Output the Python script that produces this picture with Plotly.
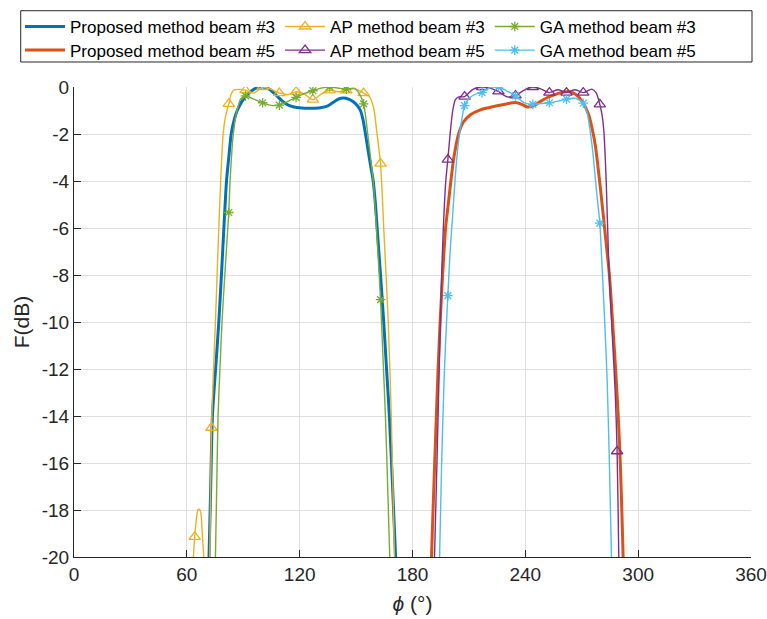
import plotly.graph_objects as go

# ---------------- data ----------------
# Proposed method beam #3
p3_phi = [71.5, 71.8, 72.7, 73.6, 75.3, 77.0, 78.4, 79.7, 81.1, 82.3, 83.6, 85.0, 86.8, 89.4, 92.5, 96.0,
          100.4, 104.0, 107.5, 110.5, 113.4, 117.0, 121.0, 126.0, 131.0, 135.0, 138.5, 141.0, 143.5, 146.0,
          148.5, 150.5, 152.3, 153.7, 155.0, 157.0, 159.1, 160.3, 161.2, 163.0, 164.7, 166.2, 167.7, 169.4,
          171.0, 171.3]
p3_f = [-21, -20, -17, -14, -12, -10, -8, -6, -4, -3, -2, -1.45, -1.0, -0.6, -0.3, -0.08,
        0.0, -0.1, -0.35, -0.58, -0.75, -0.85, -0.89, -0.9, -0.88, -0.8, -0.62, -0.5, -0.47, -0.52,
        -0.63, -0.78, -1.0, -1.4, -2.0, -3.0, -4.0, -5.0, -6.0, -8.0, -10.0, -12.0, -14.0, -17.0,
        -20.0, -20.6]

# Proposed method beam #5
p5_phi = [189.8, 190.1, 191.8, 193.6, 194.7, 196.0, 197.6, 199.0, 200.4, 202.0, 204.5, 207.0, 210.8,
          216.1, 220.5, 225.0, 230.0, 234.8, 238.5, 241.0, 244.5, 248.1, 252.5, 256.9, 262.3, 266.5,
          270.2, 273.7, 275.6, 277.3, 280.0, 282.6, 284.7, 286.4, 288.0, 289.4, 290.5, 291.3, 292.0,
          292.3]
p5_f = [-21, -20, -16, -12, -10, -8, -6, -5.0, -4.0, -3.0, -2.0, -1.5, -1.18,
        -0.97, -0.88, -0.8, -0.72, -0.66, -0.75, -0.85, -0.8, -0.61, -0.42, -0.29, -0.19, -0.3,
        -0.61, -1.18, -1.8, -2.53, -4.37, -6.36, -8.0, -10.0, -12.0, -14.0, -16.0, -18.0, -20.0,
        -21]

# AP method beam #3
ap3_phi = [63.2, 63.5, 64.2, 65.2, 65.9, 66.6, 67.4, 68.2, 69.0, 69.4, 70.6, 71.8, 72.2, 73.1, 74.2,
           75.2, 76.1, 77.0, 78.0, 79.3, 80.7, 82.3, 83.6, 85.0, 88.0, 91.2, 95.7, 100.3, 104.8, 109.2,
           113.7, 118.1, 122.5, 127.0, 131.5, 135.9, 140.3, 144.8, 149.5, 154.0, 157.0, 158.7, 159.6,
           161.3, 163.0, 164.7, 167.1, 168.7, 170.4, 170.7]
ap3_f = [-21, -20, -19.14, -18.3, -18.0, -17.97, -18.1, -19.0, -20, -21, -24, -21, -20, -14.5, -12,
         -10, -8, -6, -4, -2, -1.2, -0.72, -0.3, -0.13, -0.1, -0.14, -0.26, 0.0, -0.1, -0.26,
         -0.32, -0.2, -0.3, -0.54, -0.3, -0.14, -0.2, -0.14, -0.08, -0.26, -0.4, -0.7, -1.0,
         -2.1, -3.26, -6.0, -10.0, -14.0, -20, -21]
ap3_mk_phi = [64.2, 73.1, 82.3, 91.2, 100.3, 109.2, 118.1, 127.0, 135.9, 144.8, 154.0, 163.0]
ap3_mk_f = [-19.14, -14.5, -0.72, -0.14, 0.0, -0.26, -0.2, -0.54, -0.14, -0.14, -0.26, -3.26]

# AP method beam #5
ap5_phi = [191.4, 191.7, 193.0, 194.2, 195.5, 196.4, 197.7, 198.8, 200.0, 201.4, 202.8, 204.6, 207.7,
           211.7, 214.5, 217.0, 220.5, 223.0, 225.7, 230.3, 234.8, 239.2, 244.0, 248.2, 252.8, 257.3,
           261.9, 266.3, 270.8, 275.3, 277.7, 279.6, 280.8, 281.7, 283.0, 284.4, 286.2, 287.8, 288.8,
           289.7, 289.9]
ap5_f = [-21, -20, -16, -12, -8, -6, -4, -3.09, -2.0, -1.0, -0.54, -0.42, -0.41,
         -0.12, -0.02, 0.0, -0.02, -0.1, -0.19, -0.42, -0.36, -0.14, 0.0, -0.08, -0.24, -0.12,
         -0.24, -0.12, -0.24, -0.09, -0.25, -0.74, -1.2, -1.82, -4.0, -7.6, -10.5, -13.0, -15.5,
         -20, -21]
ap5_mk_phi = [198.8, 207.7, 217.0, 225.7, 234.8, 244.0, 252.8, 261.9, 270.8, 279.6, 288.8]
ap5_mk_f = [-3.09, -0.41, 0.0, -0.19, -0.36, 0.0, -0.24, -0.24, -0.24, -0.74, -15.5]

# GA method beam #3
ga3_phi = [74.9, 75.2, 75.9, 76.6, 77.6, 78.7, 80.2, 81.8, 82.3, 83.0, 84.7, 86.7, 88.7, 91.2, 95.6,
           100.3, 104.7, 109.2, 113.6, 118.1, 122.5, 127.0, 131.4, 135.9, 140.3, 144.8, 148.8, 151.5,
           154.0, 156.2, 157.7, 159.1, 161.2, 163.0, 164.3, 165.6, 166.8, 167.9, 168.2]
ga3_f = [-21, -20, -17, -14, -12, -10, -8, -6, -5.34, -4, -2, -1, -0.5, -0.38, -0.52,
         -0.67, -0.78, -0.77, -0.62, -0.44, -0.28, -0.16, -0.05, 0.0, -0.04, -0.09, -0.05, -0.26,
         -0.72, -2.0, -3.0, -4.0, -6.5, -9.05, -11.5, -14.0, -17.0, -20.0, -20.6]
ga3_mk_phi = [82.3, 91.2, 100.3, 109.2, 118.1, 127.0, 135.9, 144.8, 154.0, 163.0]
ga3_mk_f = [-5.34, -0.38, -0.67, -0.77, -0.44, -0.16, 0.0, -0.09, -0.72, -9.05]

# GA method beam #5
ga5_phi = [194.1, 194.4, 195.5, 196.2, 197.0, 198.1, 198.8, 200.0, 201.3, 202.6, 203.6, 205.0, 206.4,
           207.7, 210.5, 213.6, 217.0, 220.5, 222.8, 225.7, 229.8, 234.8, 239.5, 244.0, 248.4, 252.8,
           257.3, 261.9, 265.8, 268.6, 270.8, 272.9, 275.5, 277.8, 279.6, 280.9, 282.2, 283.5, 284.7,
           285.8, 286.1]
ga5_f = [-21, -20, -16, -14, -12, -10, -8.88, -7.0, -5.5, -4.0, -3.0, -2.0, -1.3,
         -0.79, -0.45, -0.3, -0.24, -0.05, 0.0, 0.0, -0.15, -0.38, -0.68, -0.74, -0.7, -0.67,
         -0.6, -0.52, -0.47, -0.55, -0.69, -1.1, -2.5, -4.37, -5.79, -7.8, -10.0, -12.45, -16,
         -20, -21]
ga5_mk_phi = [198.8, 207.7, 217.0, 225.7, 234.8, 244.0, 252.8, 261.9, 270.8, 279.6]
ga5_mk_f = [-8.88, -0.79, -0.24, 0.0, -0.38, -0.74, -0.67, -0.52, -0.69, -5.79]

x_ticks = [0, 60, 120, 180, 240, 300, 360]
x_ticktext = ["0", "60", "120", "180", "240", "300", "360"]
y_ticks = [0, -2, -4, -6, -8, -10, -12, -14, -16, -18, -20]
y_ticktext = ["0", "-2", "-4", "-6", "-8", "-10", "-12", "-14", "-16", "-18", "-20"]

names = ["Proposed method beam #3", "AP method beam #3", "GA method beam #3",
         "Proposed method beam #5", "AP method beam #5", "GA method beam #5"]

C_P3, C_P5 = "#0072BD", "#D95319"
C_AP3, C_AP5 = "#EDB120", "#7E2F8E"
C_GA3, C_GA5 = "#77AC30", "#4DBEEE"

fig = go.Figure()


def curve(phi, f, color, width):
    fig.add_trace(go.Scatter(x=phi, y=f, mode="lines",
                             line=dict(color=color, width=width, shape="spline", smoothing=0.7),
                             showlegend=False, hoverinfo="skip"))


def marks(phi, f, color, symbol, size):
    fig.add_trace(go.Scatter(x=phi, y=f, mode="markers",
                             marker=dict(symbol=symbol, size=size, color=color,
                                         line=dict(color=color, width=1.3)),
                             showlegend=False, hoverinfo="skip"))


TRI, TRI_S = "triangle-up-open", 10
AST, AST_S = "asterisk-open", 8

curve(p3_phi, p3_f, C_P3, 3)
curve(p5_phi, p5_f, C_P5, 3)
curve(ap3_phi, ap3_f, C_AP3, 1.4)
marks(ap3_mk_phi, ap3_mk_f, C_AP3, TRI, TRI_S)
curve(ap5_phi, ap5_f, C_AP5, 1.4)
marks(ap5_mk_phi, ap5_mk_f, C_AP5, TRI, TRI_S)
curve(ga3_phi, ga3_f, C_GA3, 1.4)
marks(ga3_mk_phi, ga3_mk_f, C_GA3, AST, AST_S)
curve(ga5_phi, ga5_f, C_GA5, 1.4)
marks(ga5_mk_phi, ga5_mk_f, C_GA5, AST, AST_S)

# legend entries (legend-only traces)
entries = [
    (names[0], C_P3, 3, None, None, "legend"),
    (names[1], C_AP3, 1.4, TRI, TRI_S, "legend"),
    (names[2], C_GA3, 1.4, AST, AST_S, "legend"),
    (names[3], C_P5, 3, None, None, "legend2"),
    (names[4], C_AP5, 1.4, TRI, TRI_S, "legend2"),
    (names[5], C_GA5, 1.4, AST, AST_S, "legend2"),
]
for nm, col, w, sym, sz, lg in entries:
    if sym is None:
        fig.add_trace(go.Scatter(x=[None], y=[None], mode="lines", name=nm,
                                 line=dict(color=col, width=w), legend=lg))
    else:
        fig.add_trace(go.Scatter(x=[None], y=[None], mode="lines+markers", name=nm,
                                 line=dict(color=col, width=w),
                                 marker=dict(symbol=sym, size=sz, color=col,
                                             line=dict(color=col, width=1.3)),
                                 legend=lg))

FONT = "Liberation Sans, Arial, Helvetica, sans-serif"
AX = "#262626"
GRID = "#dfdfdf"

leg_common = dict(orientation="h", xanchor="left", yanchor="top", x=-0.0798,
                  font=dict(family=FONT, size=17, color="black"), itemwidth=40,
                  bgcolor="rgba(0,0,0,0)", borderwidth=0, traceorder="normal")

fig.update_layout(
    width=767, height=619,
    margin=dict(l=74, r=16, t=87, b=62, autoexpand=False),
    paper_bgcolor="white", plot_bgcolor="white",
    font=dict(family=FONT, size=19, color=AX),
    legend=dict(**leg_common, y=1.1661),
    legend2=dict(**leg_common, y=1.1158),
    shapes=[dict(type="rect", xref="paper", yref="paper", x0=-0.0787, x1=1.0015,
                 y0=1.0532, y1=1.1623, line=dict(color=AX, width=1),
                 fillcolor="rgba(0,0,0,0)", layer="below")],
    xaxis=dict(range=[0, 360], tickvals=x_ticks, ticktext=x_ticktext,
               ticks="inside", ticklen=7, tickcolor=AX, tickwidth=1,
               showline=True, linecolor=AX, linewidth=1,
               showgrid=True, gridcolor=GRID, gridwidth=1, zeroline=False,
               tickfont=dict(size=19, color=AX),
               title=dict(text="<i>ϕ</i> (°)", font=dict(size=21, color=AX), standoff=12)),
    yaxis=dict(range=[-20, 0], tickvals=y_ticks, ticktext=y_ticktext,
               ticks="inside", ticklen=7, tickcolor=AX, tickwidth=1,
               showline=True, linecolor=AX, linewidth=1,
               showgrid=True, gridcolor=GRID, gridwidth=1, zeroline=False,
               tickfont=dict(size=19, color=AX),
               title=dict(text="F(dB)", font=dict(size=21, color=AX), standoff=6)),
)

fig.write_html("out.html")
